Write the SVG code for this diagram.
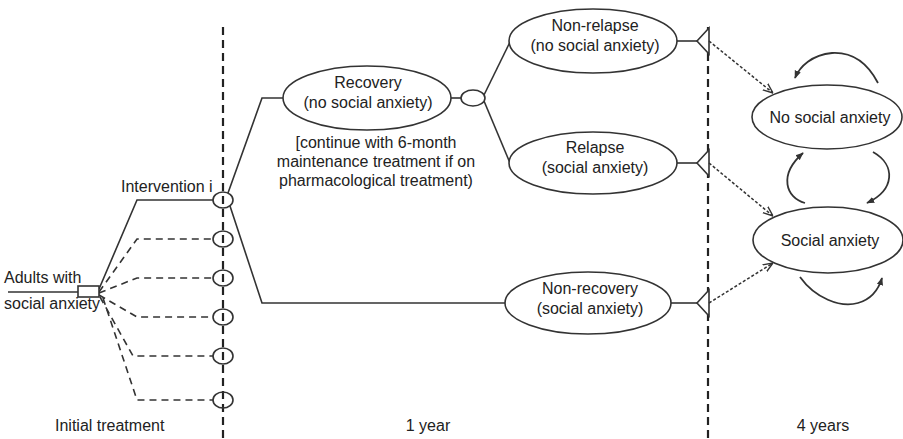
<svg xmlns="http://www.w3.org/2000/svg" width="903" height="439" viewBox="0 0 903 439">
<style>
text{font-family:"Liberation Sans",Arial,sans-serif;font-size:16px;fill:#222}
.c{text-anchor:middle}
.n{fill:#fff;stroke:#333;stroke-width:1.6}
.s{fill:none;stroke:#333;stroke-width:1.6}
.d{fill:none;stroke:#333;stroke-width:1.6;stroke-dasharray:7 5}
.v{fill:none;stroke:#222;stroke-width:2.2;stroke-dasharray:8 5}
.a{fill:none;stroke:#333;stroke-width:1.5;stroke-dasharray:3 2;marker-end:url(#open)}
.cu{fill:none;stroke:#333;stroke-width:1.8;marker-end:url(#fill)}
</style>
<defs>
<marker id="open" viewBox="0 0 10 10" refX="10" refY="5" markerWidth="10" markerHeight="10" markerUnits="userSpaceOnUse" orient="auto">
<path d="M0,1 L10,5 L0,9" fill="none" stroke="#333" stroke-width="1.4"/>
</marker>
<marker id="fill" viewBox="0 0 10 10" refX="9" refY="5" markerWidth="8" markerHeight="8" markerUnits="userSpaceOnUse" orient="auto">
<path d="M0,1 L10,5 L0,9 Z" fill="#333"/>
</marker>
</defs>
<rect width="903" height="439" fill="#fff"/>
<g id="timelines">
<line class="v" x1="223" y1="27" x2="223" y2="439"/>
<line class="v" x1="708" y1="27" x2="708" y2="439"/>
</g>
<g id="connectors">
<line class="s" x1="8" y1="292" x2="78" y2="292"/>
<polyline class="s" points="99,289 137,200 213,200"/>
<polyline class="d" points="99,292 137,239 213,239"/>
<polyline class="d" points="99,293 137,278 213,278"/>
<polyline class="d" points="99,295 137,317 213,317"/>
<polyline class="d" points="100,297 133,356 213,356"/>
<polyline class="d" points="103,298 137,400 213,400"/>
<polyline class="s" points="228,193 262,98 283,98"/>
<polyline class="s" points="230,206 262,303 505,303"/>
<line class="s" x1="451" y1="98" x2="461" y2="98"/>
<line class="s" x1="484" y1="95" x2="510" y2="42"/>
<line class="s" x1="484" y1="101" x2="510" y2="163"/>
<line class="s" x1="677" y1="41" x2="697" y2="41"/>
<line class="s" x1="677" y1="163" x2="697" y2="163"/>
<line class="s" x1="671" y1="303" x2="697" y2="303"/>
<polygon class="n" points="697,41 709,28 709,54"/>
<polygon class="n" points="697,163 709,150 709,176"/>
<polygon class="n" points="697,303 709,290 709,316"/>
<line class="a" x1="709" y1="41" x2="773" y2="93"/>
<line class="a" x1="709" y1="163" x2="773" y2="216"/>
<line class="a" x1="709" y1="303" x2="773" y2="263"/>
<path class="cu" d="M878,83 C866,60 850,52 832,53 C812,55 800,66 795,78"/>
<path class="cu" d="M805,203 C786,198 778,175 803,153"/>
<path class="cu" d="M873,152 C896,165 895,190 867,203"/>
<path class="cu" d="M800,277 C815,298 840,308 858,303 C872,299 879,288 882,278"/>
</g>
<g id="adults">
<rect class="n" x="78" y="286" width="21" height="11"/>
<text x="4" y="283">Adults with</text>
<text x="4" y="309">social anxiety</text>
</g>
<g id="intervention-label">
<text x="121" y="192">Intervention i</text>
</g>
<g id="chance-nodes">
<ellipse class="s" cx="223" cy="200" rx="10" ry="8"/>
<ellipse class="s" cx="223" cy="239" rx="10" ry="8"/>
<ellipse class="s" cx="223" cy="278" rx="10" ry="8"/>
<ellipse class="s" cx="223" cy="317" rx="10" ry="8"/>
<ellipse class="s" cx="223" cy="356" rx="10" ry="8"/>
<ellipse class="s" cx="223" cy="400" rx="10" ry="8"/>
<ellipse class="n" cx="473" cy="98" rx="12" ry="8"/>
</g>
<g id="recovery">
<ellipse class="n" cx="367" cy="98" rx="84" ry="32"/>
<text class="c" x="368" y="88">Recovery</text>
<text class="c" x="368" y="108">(no social anxiety)</text>
</g>
<g id="maintenance-note">
<text class="c" x="376" y="148">[continue with 6-month</text>
<text class="c" x="376" y="167">maintenance treatment if on</text>
<text class="c" x="376" y="186">pharmacological treatment)</text>
</g>
<g id="non-relapse">
<ellipse class="n" cx="593" cy="41" rx="84" ry="32"/>
<text class="c" x="595" y="31">Non-relapse</text>
<text class="c" x="595" y="51">(no social anxiety)</text>
</g>
<g id="relapse">
<ellipse class="n" cx="593" cy="163" rx="84" ry="31"/>
<text class="c" x="595" y="153">Relapse</text>
<text class="c" x="595" y="173">(social anxiety)</text>
</g>
<g id="non-recovery">
<ellipse class="n" cx="588" cy="303" rx="83" ry="31"/>
<text class="c" x="590" y="294">Non-recovery</text>
<text class="c" x="590" y="314">(social anxiety)</text>
</g>
<g id="no-social-anxiety">
<ellipse class="n" cx="827" cy="117" rx="75" ry="32"/>
<text class="c" x="830" y="123">No social anxiety</text>
</g>
<g id="social-anxiety">
<ellipse class="n" cx="828" cy="240" rx="75" ry="33"/>
<text class="c" x="830" y="246">Social anxiety</text>
</g>
<g id="phase-labels">
<text x="55" y="431">Initial treatment</text>
<text class="c" x="428" y="431">1 year</text>
<text class="c" x="823" y="431">4 years</text>
</g>
</svg>
